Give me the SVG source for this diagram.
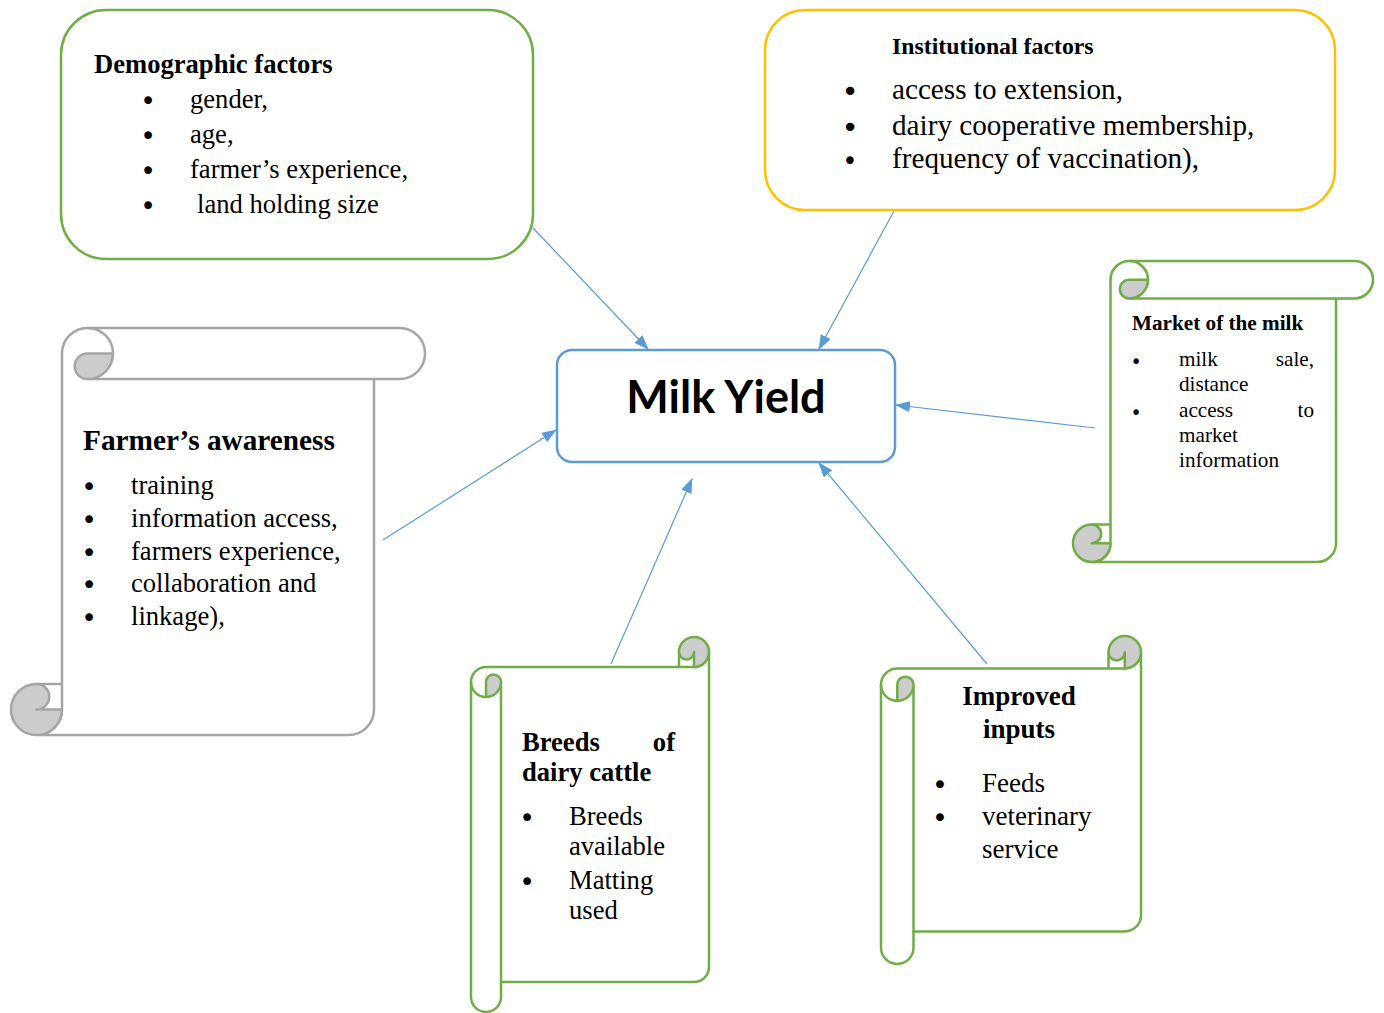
<svg xmlns="http://www.w3.org/2000/svg" width="1384" height="1013" viewBox="0 0 1384 1013">
<style>
.g{fill:#fff;stroke:#70AD47;stroke-width:2.5;stroke-linejoin:round}
.y{fill:#fff;stroke:#FFC000;stroke-width:2.5}
.gy{fill:#fff;stroke:#A5A5A5;stroke-width:2.5;stroke-linejoin:round}
.curlg{fill:#CCCCCC;stroke:#70AD47;stroke-width:2.5;stroke-linejoin:round}
.curlgy{fill:#CCCCCC;stroke:#A5A5A5;stroke-width:2.5;stroke-linejoin:round}
.lg{fill:none;stroke:#70AD47;stroke-width:2.5}
.lgy{fill:none;stroke:#A5A5A5;stroke-width:2.5}
.blue{fill:#fff;stroke:#5B9BD5;stroke-width:2.5}
.conn{stroke:#5B9BD5;stroke-width:1.2;fill:none;marker-end:url(#arr)}
text{font-family:"Liberation Serif","Times New Roman",serif;fill:#000}
.b{font-weight:bold}
.mid{text-anchor:middle}
.end{text-anchor:end}
.bu{font-family:"DejaVu Sans",sans-serif;text-anchor:middle}
</style>
<defs>
<marker id="arr" markerUnits="userSpaceOnUse" markerWidth="15" markerHeight="11" viewBox="0 0 15 11" refX="14" refY="5.5" orient="auto">
<path d="M0,0 L15,5.5 L0,11 Z" fill="#5B9BD5"/>
</marker>
</defs>

<g id="demographic">
<rect class="g" x="61" y="10" width="472" height="249" rx="45" ry="45"/>
<text class="b" x="94" y="73" font-size="26.6">Demographic factors</text>
<g font-size="26.6">
<text class="bu" x="148" y="110">•</text><text x="190" y="108">gender,</text>
<text class="bu" x="148" y="145">•</text><text x="190" y="143">age,</text>
<text class="bu" x="148" y="180">•</text><text x="190" y="178">farmer’s experience,</text>
<text class="bu" x="148" y="215">•</text><text x="197" y="213">land holding size</text>
</g>
</g>

<g id="institutional">
<rect class="y" x="765" y="10" width="570" height="200" rx="40" ry="40"/>
<text class="b" x="892" y="54" font-size="23.8">Institutional factors</text>
<g font-size="29.2">
<text class="bu" x="850" y="101">•</text><text x="892" y="99">access to extension,</text>
<text class="bu" x="850" y="137">•</text><text x="892" y="135">dairy cooperative membership,</text>
<text class="bu" x="850" y="170" font-size="26">•</text><text x="892" y="168">frequency of vaccination),</text>
</g>
</g>

<g id="milk-yield">
<rect class="blue" x="557" y="350" width="338" height="112" rx="15" ry="15"/>
<text class="mid" x="726" y="413" font-size="45" font-weight="bold" style="font-family:Lato,'Open Sans',sans-serif">Milk Yield</text>
</g>

<g id="farmers-awareness">
<path class="gy" d="M36.5,735 L348.5,735 A25.5,25.5 0 0 0 374,709.5 L374,379 L399.5,379 A25.5,25.5 0 0 0 399.5,328 L87.5,328 A25.5,25.5 0 0 0 62,353.5 L62,709.5 A25.5,25.5 0 0 1 36.5,735 Z"/>
<path class="lgy" d="M87.5,379 L374,379"/>
<path class="curlgy" d="M87.5,353.5 L113,353.5 A25.5,25.5 0 0 1 87.5,379 A12.75,12.75 0 0 1 87.5,353.5 Z"/>
<path class="lgy" d="M87.5,328 A25.5,25.5 0 0 1 113,353.5"/>
<path class="curlgy" d="M36.5,684 A12.75,12.75 0 0 1 36.5,709.5 L62,709.5 A25.5,25.5 0 1 1 36.5,684 Z"/>
<path class="lgy" d="M36.5,684 L62,684"/>
<text class="b" x="83" y="450" font-size="29.3">Farmer’s awareness</text>
<g font-size="26.6">
<text class="bu" x="89" y="496">•</text><text x="131" y="494">training</text>
<text class="bu" x="89" y="529">•</text><text x="131" y="527">information access,</text>
<text class="bu" x="89" y="562">•</text><text x="131" y="560">farmers experience,</text>
<text class="bu" x="89" y="594">•</text><text x="131" y="592">collaboration and</text>
<text class="bu" x="89" y="627">•</text><text x="131" y="625">linkage),</text>
</g>
</g>

<g id="market">
<path class="g" d="M1091.75,562 L1317.25,562 A18.75,18.75 0 0 0 1336,543.25 L1336,298.5 L1354.25,298.5 A18.75,18.75 0 0 0 1354.25,261 L1129.25,261 A18.75,18.75 0 0 0 1110.5,279.75 L1110.5,543.25 A18.75,18.75 0 0 1 1091.75,562 Z"/>
<path class="lg" d="M1129.25,298.5 L1336,298.5"/>
<path class="curlg" d="M1129.25,279.75 L1148,279.75 A18.75,18.75 0 0 1 1129.25,298.5 A9.375,9.375 0 0 1 1129.25,279.75 Z"/>
<path class="lg" d="M1129.25,261 A18.75,18.75 0 0 1 1148,279.75"/>
<path class="curlg" d="M1091.75,524.5 A9.375,9.375 0 0 1 1091.75,543.25 L1110.5,543.25 A18.75,18.75 0 1 1 1091.75,524.5 Z"/>
<path class="lg" d="M1091.75,524.5 L1110.5,524.5"/>
<text class="b" x="1132" y="330" font-size="21.2">Market of the milk</text>
<g font-size="21.2">
<text class="bu" x="1136" y="368" font-size="19">•</text><text x="1179" y="366">milk</text><text class="end" x="1314" y="366">sale,</text>
<text x="1179" y="391">distance</text>
<text class="bu" x="1136" y="419" font-size="19">•</text><text x="1179" y="417">access</text><text class="end" x="1314" y="417">to</text>
<text x="1179" y="442">market</text>
<text x="1179" y="467">information</text>
</g>
</g>

<g id="breeds">
<g transform="matrix(0 1 1 0 0 0)">
<path class="g" d="M652,709 L967,709 A15,15 0 0 0 982,694 L982,501 L997,501 A15,15 0 0 0 997,471 L682,471 A15,15 0 0 0 667,486 L667,694 A15,15 0 0 1 652,709 Z"/>
<path class="lg" d="M682,501 L982,501"/>
<path class="curlg" d="M682,486 L697,486 A15,15 0 0 1 682,501 A7.5,7.5 0 0 1 682,486 Z"/>
<path class="lg" d="M682,471 A15,15 0 0 1 697,486"/>
<path class="curlg" d="M652,679 A7.5,7.5 0 0 1 652,694 L667,694 A15,15 0 1 1 652,679 Z"/>
<path class="lg" d="M652,679 L667,679"/>
</g>
<text class="b" x="522" y="751" font-size="26.6">Breeds</text><text class="b end" x="675" y="751" font-size="26.6">of</text>
<text class="b" x="522" y="781" font-size="26.6">dairy cattle</text>
<g font-size="26.6">
<text class="bu" x="527" y="827">•</text><text x="569" y="825">Breeds</text>
<text x="569" y="855">available</text>
<text class="bu" x="527" y="891">•</text><text x="569" y="889">Matting</text>
<text x="569" y="919">used</text>
</g>
</g>

<g id="improved-inputs">
<g transform="matrix(0 1 1 0 0 0)">
<path class="g" d="M652.25,1141 L915.25,1141 A16.25,16.25 0 0 0 931.5,1124.75 L931.5,913.5 L947.75,913.5 A16.25,16.25 0 0 0 947.75,881 L684.75,881 A16.25,16.25 0 0 0 668.5,897.25 L668.5,1124.75 A16.25,16.25 0 0 1 652.25,1141 Z"/>
<path class="lg" d="M684.75,913.5 L931.5,913.5"/>
<path class="curlg" d="M684.75,897.25 L701,897.25 A16.25,16.25 0 0 1 684.75,913.5 A8.125,8.125 0 0 1 684.75,897.25 Z"/>
<path class="lg" d="M684.75,881 A16.25,16.25 0 0 1 701,897.25"/>
<path class="curlg" d="M652.25,1108.5 A8.125,8.125 0 0 1 652.25,1124.75 L668.5,1124.75 A16.25,16.25 0 1 1 652.25,1108.5 Z"/>
<path class="lg" d="M652.25,1108.5 L668.5,1108.5"/>
</g>
<text class="b mid" x="1019" y="705" font-size="27">Improved</text>
<text class="b mid" x="1019" y="738" font-size="27">inputs</text>
<g font-size="27">
<text class="bu" x="940" y="794">•</text><text x="982" y="792">Feeds</text>
<text class="bu" x="940" y="827">•</text><text x="982" y="825">veterinary</text>
<text x="982" y="858">service</text>
</g>
</g>

<g id="connectors">
<line class="conn" x1="533" y1="228" x2="648" y2="349"/>
<line class="conn" x1="894" y1="211" x2="819" y2="349"/>
<line class="conn" x1="1095" y1="428" x2="896" y2="405"/>
<line class="conn" x1="383" y1="540" x2="556" y2="430"/>
<line class="conn" x1="611" y1="664" x2="692" y2="479"/>
<line class="conn" x1="987" y1="664" x2="819" y2="463"/>
</g>
</svg>
